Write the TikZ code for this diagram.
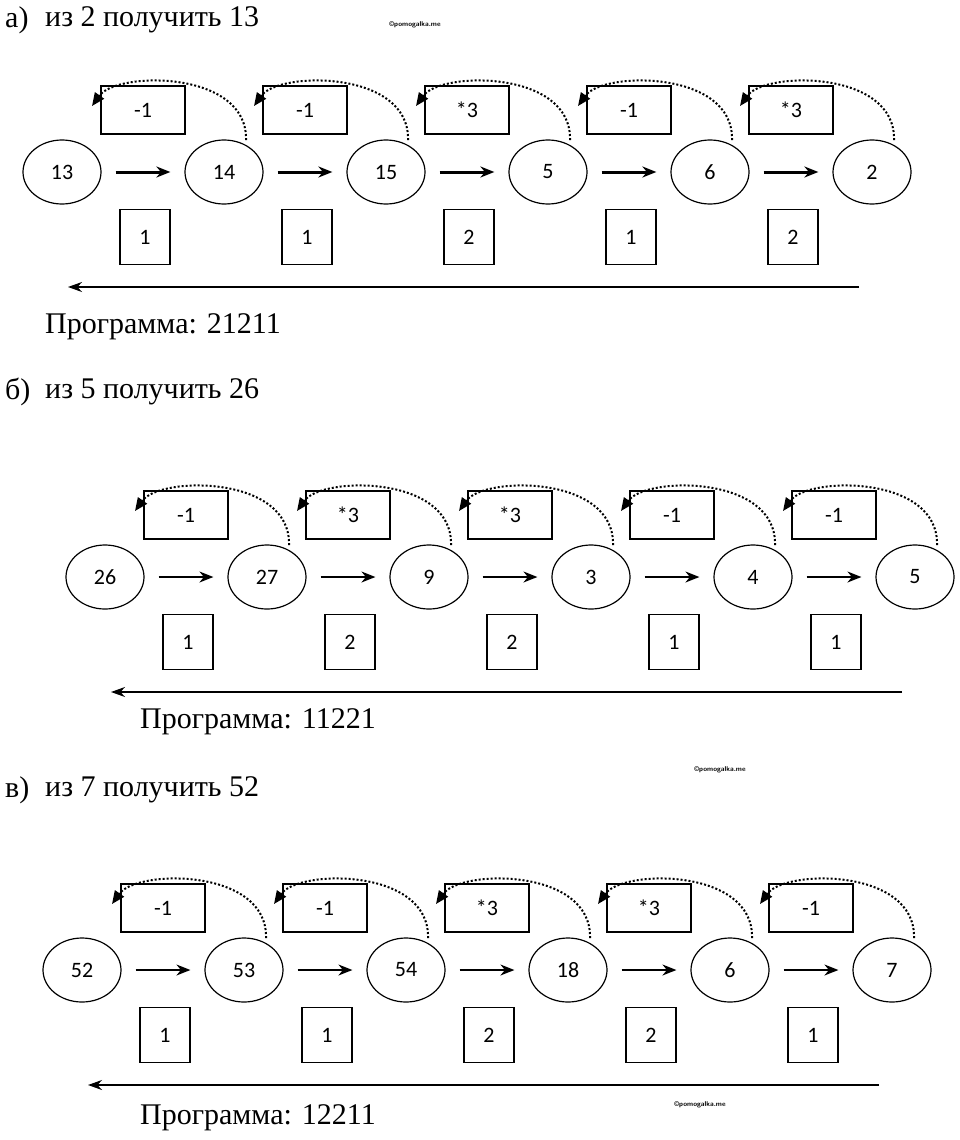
\documentclass[tikz,border=0pt]{standalone}
\usepackage{fontspec}
\setmainfont{Liberation Serif}
\newfontfamily\labelfont{Carlito}
\usetikzlibrary{shapes.geometric, arrows.meta, positioning, calc}
\tikzstyle{state} = [ellipse, draw=black, line width=1.2pt, minimum width=78pt, minimum height=64pt, font=\labelfont\fontsize{22}{24}\selectfont]
\tikzstyle{opbox} = [rectangle, draw=black, line width=1.2pt, minimum width=84pt, minimum height=48pt, font=\labelfont\fontsize{22}{24}\selectfont]
\tikzstyle{numbox} = [rectangle, draw=black, line width=1.2pt, minimum width=50pt, minimum height=55pt, font=\labelfont\fontsize{22}{24}\selectfont]
\tikzstyle{title} = [anchor=west, inner sep=0pt, font=\fontsize{30}{34}\selectfont]
\tikzstyle{watermark} = [font=\sffamily\bfseries\fontsize{7}{8}\selectfont, inner sep=0pt]
\tikzstyle{hop} = [dotted, line width=2pt, -{Triangle[length=13pt,width=11pt]}]
\tikzstyle{longarrow} = [line width=1.5pt, -{Stealth[length=14pt,width=10pt]}]
\begin{document}
\begin{tikzpicture}[x=1pt,y=1pt]
    \useasboundingbox (0,0) rectangle (960,-1140);
    % watermarks
    \node[watermark] (w1) at (415,-25) {©pomogalka.me};
    \node[watermark] (w2) at (720,-770) {©pomogalka.me};
    \node[watermark] (w3) at (700,-1105) {©pomogalka.me};
    % rows: name / start x / y / arrow width / values / ops / numbers / program / titles
    \foreach \rw/\sx/\sy/\aw/\vals/\ops/\nums/\prog/\tl/\ttl/\px/\ty/\py in {%
        a/62/172/3pt/{13,14,15,5,6,2}/{-1,-1,*3,-1,*3}/{1,1,2,1,2}/21211/а)/{из 2 получить 13}/45/152/155,%
        b/105/577/1.5pt/{26,27,9,3,4,5}/{-1,*3,*3,-1,-1}/{1,2,2,1,1}/11221/б)/{из 5 получить 26}/140/185/145,%
        c/82/970/1.5pt/{52,53,54,18,6,7}/{-1,-1,*3,*3,-1}/{1,1,2,2,1}/12211/в)/{из 7 получить 52}/140/180/148} {
        \node[title] (\rw lab) at (5,-\sy+\ty) {\tl};
        \node[title] (\rw title) at (45,-\sy+\ty) {\ttl};
        \foreach \v [count=\i] in \vals
            \node (\rw s\i) [state] at (\sx+162*\i-162,-\sy) {\v};
        \foreach \o [count=\i] in \ops {
            \pgfmathtruncatemacro{\j}{\i+1}
            \node (\rw o\i) [opbox] at ($(\rw s\i)!0.5!(\rw s\j)+(0,62)$) {\o};
            \draw [line width=\aw, -{Stealth[length=14pt,width=11pt]}] ($(\rw s\i.east)+(14,0)$) -- ($(\rw s\j.west)+(-14,0)$);
            \draw [hop] ($(\rw s\j)+(22,32)$) .. controls +(2,70) and +(25,35) .. ($(\rw s\i)+(30,66)$);
        }
        \foreach \n [count=\i] in \nums {
            \pgfmathtruncatemacro{\j}{\i+1}
            \node (\rw n\i) [numbox] at ($(\rw s\i)!0.5!(\rw s\j)+(2,-65)$) {\n};
        }
        \coordinate (\rw ls) at ($(\rw s6)+(-13,-115)$);
        \coordinate (\rw le) at ($(\rw s1)+(6,-115)$);
        \draw [longarrow] (\rw ls) -- (\rw le);
        \node[title] (\rw prog) at (\px,-\sy-\py) {Программа: \prog};
    }
\end{tikzpicture}
\end{document}
